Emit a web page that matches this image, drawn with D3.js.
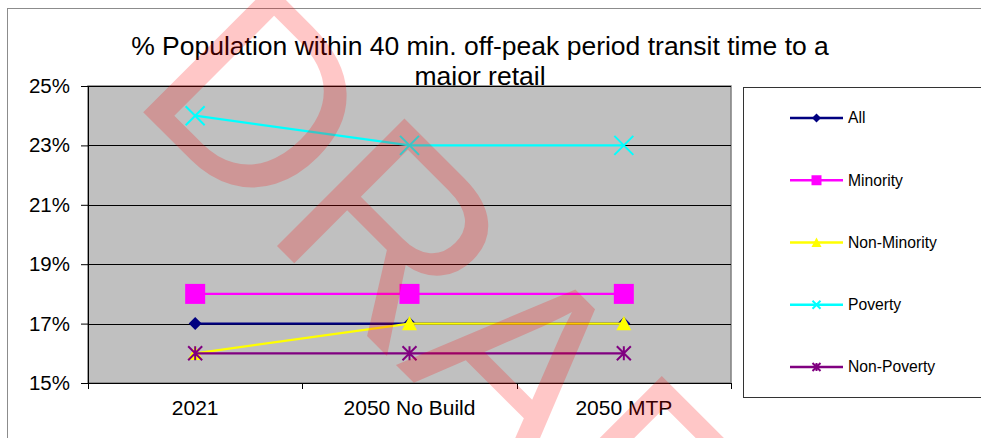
<!DOCTYPE html>
<html>
<head>
<meta charset="utf-8">
<script src="https://cdn.jsdelivr.net/npm/d3@7"></script>
<style>
  html, body { margin: 0; padding: 0; background: #fff; }
  svg { display: block; font-family: "Liberation Sans", Arial, sans-serif; }
</style>
</head>
<body>
<svg id="chart" width="981" height="438"></svg>
<script>
// ---- data ----
const categories = ["2021", "2050 No Build", "2050 MTP"];
const seriesNames = ["All", "Minority", "Non-Minority", "Poverty", "Non-Poverty"];
const allValues = [17, 17, 17];
const minorityValues = [18, 18, 18];
const nonMinorityValues = [16, 17, 17];
const povertyValues = [24, 23, 23];
const nonPovertyValues = [16, 16, 16];
const yTicks = [15, 17, 19, 21, 23, 25];
const titleLines = ["% Population within 40 min. off-peak period transit time to a", "major retail"];
const watermarkText = "DRAFT";

const seriesColors = ["#000080", "#FF00FF", "#FFFF00", "#00FFFF", "#800080"];
const seriesMarkers = ["diamond", "square", "triangle", "x", "star"];
const seriesValues = [allValues, minorityValues, nonMinorityValues, povertyValues, nonPovertyValues];
const series = seriesNames.map((name, i) => ({
  name, color: seriesColors[i], marker: seriesMarkers[i], values: seriesValues[i]
}));

// ---- layout ----
const svg = d3.select("#chart");
const plot = { left: 88, right: 731, top: 86, bottom: 383 };

const x = d3.scaleBand().domain(categories).range([plot.left, plot.right]).padding(0);
const xc = c => x(c) + x.bandwidth() / 2;
const y = d3.scaleLinear().domain([15, 25]).range([plot.bottom, plot.top]);

// outer chart border
svg.append("rect").attr("x", 7.5).attr("y", 8.5).attr("width", 990).attr("height", 450)
  .attr("fill", "none").attr("stroke", "#8c8c8c").attr("stroke-width", 1);

// title
svg.append("g").selectAll("text").data(titleLines).join("text")
  .attr("x", 480).attr("y", (d, i) => 55 + i * 30)
  .attr("text-anchor", "middle").attr("font-size", 26.5).attr("fill", "#000")
  .text(d => d);

// plot area
svg.append("rect").attr("x", plot.left).attr("y", plot.top)
  .attr("width", plot.right - plot.left).attr("height", plot.bottom - plot.top)
  .attr("fill", "#C0C0C0").attr("stroke", "#808080").attr("stroke-width", 1.5);

// gridlines
svg.append("g").selectAll("line").data(yTicks.filter(t => t > 15)).join("line")
  .attr("x1", plot.left).attr("x2", plot.right)
  .attr("y1", d => Math.round(y(d)) + 0.5).attr("y2", d => Math.round(y(d)) + 0.5)
  .attr("stroke", "#000").attr("stroke-width", 1);

// y axis
const yAxis = svg.append("g").attr("transform", `translate(${plot.left},0)`)
  .call(d3.axisLeft(y).tickValues(yTicks).tickFormat(d => d + "%").tickSize(7).tickPadding(11));
yAxis.select(".domain").attr("stroke", "#000");
yAxis.selectAll("text").attr("font-size", 20.5).attr("fill", "#000")
  .attr("font-family", "'Liberation Sans', Arial, sans-serif");
yAxis.selectAll(".tick line").attr("stroke", "#000");

// x axis line + ticks at band boundaries
const xg = svg.append("g");
xg.append("line").attr("x1", plot.left).attr("x2", plot.right)
  .attr("y1", plot.bottom + 0.5).attr("y2", plot.bottom + 0.5).attr("stroke", "#000");
const boundaries = categories.map(c => x(c)).concat([x(categories[categories.length - 1]) + x.bandwidth()]);
xg.selectAll("line.tk").data(boundaries).join("line").attr("class", "tk")
  .attr("x1", d => Math.round(d) + 0.5).attr("x2", d => Math.round(d) + 0.5)
  .attr("y1", plot.bottom).attr("y2", plot.bottom + 6).attr("stroke", "#000");
xg.selectAll("text").data(categories).join("text")
  .attr("x", d => xc(d)).attr("y", 415).attr("text-anchor", "middle")
  .attr("font-size", 21).attr("fill", "#000").text(d => d);

// marker generator
function markerPath(type, s) {
  const r = s / 2;
  switch (type) {
    case "diamond": return `M0,${-r}L${r},0L0,${r}L${-r},0Z`;
    case "square": return `M${-r},${-r}H${r}V${r}H${-r}Z`;
    case "triangle": return `M0,${-r}L${r},${r * 0.9}H${-r}Z`;
    case "x": return `M${-r},${-r}L${r},${r}M${-r},${r}L${r},${-r}`;
    case "star": return `M${-r},${-r}L${r},${r}M${-r},${r}L${r},${-r}M0,${-r}V${r}`;
  }
}
const isStroke = t => t === "x" || t === "star";
const plotSizes = { diamond: 13, square: 20, triangle: 15, x: 19, star: 14 };
const legendSizes = { diamond: 9, square: 10, triangle: 10, x: 8, star: 8 };

const line = d3.line().x((d, i) => xc(categories[i])).y(d => y(d));
const sg = svg.append("g");
series.forEach(s => {
  const g = sg.append("g");
  g.append("path").attr("d", line(s.values)).attr("fill", "none")
    .attr("stroke", s.color).attr("stroke-width", 2.2);
  g.selectAll("path.m").data(s.values).join("path").attr("class", "m")
    .attr("transform", (d, i) => `translate(${xc(categories[i])},${y(d)})`)
    .attr("d", markerPath(s.marker, plotSizes[s.marker]))
    .attr("fill", isStroke(s.marker) ? "none" : s.color)
    .attr("stroke", isStroke(s.marker) ? s.color : "none")
    .attr("stroke-width", 2);
});

// legend
const lg = svg.append("g");
lg.append("rect").attr("x", 743.5).attr("y", 87.5).attr("width", 260).attr("height", 310)
  .attr("fill", "#fff").attr("stroke", "#333").attr("stroke-width", 1);
const legendY = d3.scalePoint().domain(seriesNames).range([118, 367]);
series.forEach(s => {
  const cy = legendY(s.name);
  lg.append("line").attr("x1", 790).attr("x2", 843).attr("y1", cy).attr("y2", cy)
    .attr("stroke", s.color).attr("stroke-width", 2.5);
  lg.append("path").attr("transform", `translate(816.5,${cy})`)
    .attr("d", markerPath(s.marker, legendSizes[s.marker]))
    .attr("fill", isStroke(s.marker) ? "none" : s.color)
    .attr("stroke", isStroke(s.marker) ? s.color : "none").attr("stroke-width", 2);
  lg.append("text").attr("x", 848).attr("y", cy).attr("dy", "0.35em")
    .attr("font-size", 15.7).attr("fill", "#000").text(s.name);
});

// DRAFT watermark
svg.append("text").attr("transform", "translate(128,97) rotate(45)")
  .attr("font-size", 262).attr("fill", "#FF0000").attr("fill-opacity", 0.22)
  .text(watermarkText);
</script>
</body>
</html>
